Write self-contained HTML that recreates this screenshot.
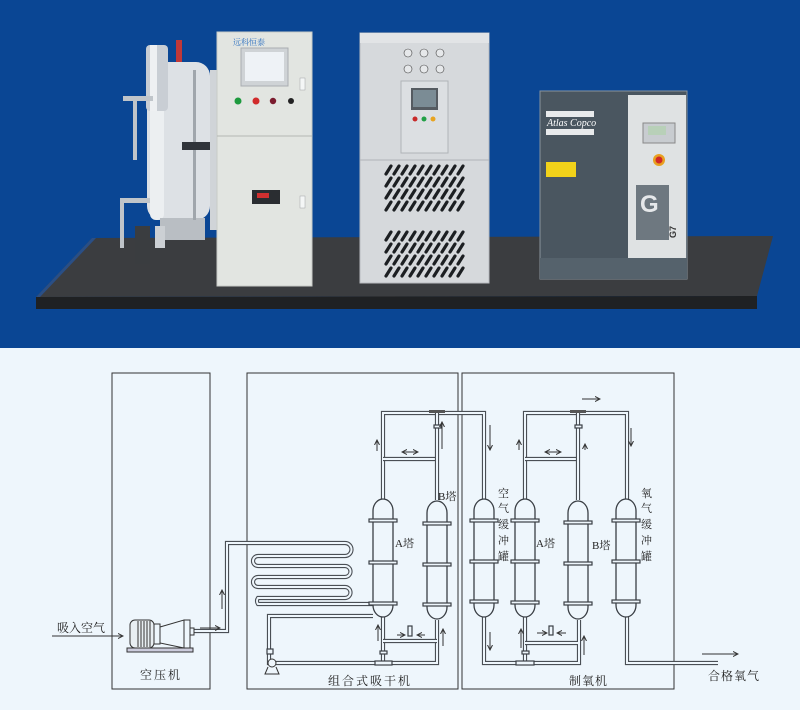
<!DOCTYPE html>
<html><head><meta charset="utf-8"><style>
html,body{margin:0;padding:0;background:#eef6fc;}
svg{display:block;}
text{font-family:"Liberation Serif","Noto Serif CJK SC","Noto Sans CJK SC",serif;fill:#222;}
.o{fill:none;stroke:#4a4f55;stroke-width:4.2;stroke-linejoin:miter;}
.i{fill:none;stroke:#eef6fc;stroke-width:2;stroke-linejoin:miter;}
.t{fill:#eef6fc;stroke:#3a3f45;stroke-width:1.3;}
.f{fill:#eef6fc;stroke:#3a3f45;stroke-width:1.2;}
.ln{stroke:#333;stroke-width:1;fill:none;}
</style></head><body>
<svg width="800" height="710" viewBox="0 0 800 710" xmlns="http://www.w3.org/2000/svg">
<defs>
<marker id="ah" markerWidth="6" markerHeight="6" refX="5" refY="3" orient="auto"><path d="M0,0.5 L5,3 L0,5.5" fill="none" stroke="#333" stroke-width="1"/></marker>
<marker id="as" markerWidth="6" markerHeight="6" refX="1" refY="3" orient="auto"><path d="M6,0.5 L1,3 L6,5.5" fill="none" stroke="#333" stroke-width="1"/></marker>
<path id="p1" d="M191,631 H227 V543 H345 A5.5,5.5 0 0 1 345,556 H258 A5,5 0 0 0 258,566 H345 A5.5,5.5 0 0 1 345,577 H258 A5,5 0 0 0 258,587 H345 A5.5,5.5 0 0 1 345,598 H258 A5,5 0 0 0 258,604 H373"/>
<path id="p2" d="M373,616 H269 V663 H437 V620"/>
<path id="p3" d="M383,500 V413 H484 V500"/>
<path id="p4" d="M383,459 H437"/>
<path id="p5" d="M437,500 V413"/>
<path id="p6" d="M383,617 V663"/>
<path id="p7" d="M383,641 H437"/>
<path id="p8" d="M484,617 V663 H579 V620"/>
<path id="p9" d="M525,500 V413 H627 V500"/>
<path id="p10" d="M525,459 H578"/>
<path id="p11" d="M578,500 V413"/>
<path id="p12" d="M525,617 V663"/>
<path id="p13" d="M525,643 H578"/>
<path id="p14" d="M627,617 V663 H718"/>
<path id="tw" d="M0,12 A10,12 0 0 1 20,12 V106 A10,12 0 0 1 0,106 Z"/>
</defs>

<rect x="0" y="0" width="800" height="348" fill="#0a4694"/>
<polygon points="92,238 773,236 757,296 36,297" fill="#3b3d40"/>
<polygon points="36,297 757,296 757,309 36,309" fill="#1f2123"/>
<polygon points="36,297 92,238 96,238 40,297" fill="#2a4f86"/>
<!-- tank unit -->
<rect x="147" y="62" width="63" height="158" rx="14" fill="#dde1e5"/>
<rect x="150" y="62" width="14" height="158" rx="6" fill="#eceff1"/>
<rect x="146" y="45" width="22" height="66" rx="4" fill="#c9ced4"/>
<rect x="150" y="45" width="7" height="66" fill="#eef0f2"/>
<rect x="123" y="96" width="30" height="5" fill="#c0c5ca"/>
<rect x="133" y="100" width="4" height="60" fill="#bfc4c9"/>
<rect x="120" y="198" width="30" height="5" fill="#c0c5ca"/>
<rect x="120" y="198" width="4" height="50" fill="#bfc4c9"/>
<rect x="160" y="218" width="45" height="22" fill="#b9bec3"/>
<rect x="135" y="226" width="15" height="38" fill="#3a3d40"/>
<rect x="155" y="226" width="10" height="22" fill="#ccd0d4"/>
<rect x="176" y="40" width="6" height="22" fill="#c03838"/>
<rect x="193" y="70" width="3" height="150" fill="#a0a6ac"/>
<rect x="182" y="142" width="30" height="8" fill="#30343a"/>
<rect x="210" y="70" width="8" height="160" fill="#d0d4d8"/>
<!-- control cabinet -->
<rect x="217" y="32" width="95" height="254" fill="#e2e5e1" stroke="#c8ccc8"/>
<line x1="217" y1="136" x2="312" y2="136" stroke="#b4b8b4"/>
<text x="233" y="45" font-size="8" style="fill:#2b6fc0">远科恒泰</text>
<rect x="241" y="48" width="47" height="38" fill="#cfd3d6" stroke="#a9adb1"/>
<rect x="245" y="52" width="39" height="29" fill="#eef2f6"/>
<circle cx="238" cy="101" r="3.5" fill="#1d9a3e"/><circle cx="256" cy="101" r="3.5" fill="#d12b2b"/>
<circle cx="273" cy="101" r="3.2" fill="#7a1b2e"/><circle cx="291" cy="101" r="3" fill="#222"/>
<rect x="252" y="190" width="28" height="14" fill="#2a2d31"/>
<rect x="257" y="193" width="12" height="5" fill="#d03030"/>
<rect x="300" y="78" width="5" height="12" fill="#f4f6f6" stroke="#a0a4a8" stroke-width=".5"/>
<rect x="300" y="196" width="5" height="12" fill="#f4f6f6" stroke="#a0a4a8" stroke-width=".5"/>
<!-- dryer -->
<rect x="360" y="33" width="129" height="250" fill="#d6d9dc" stroke="#b8bcc0"/>
<rect x="360" y="33" width="129" height="10" fill="#e2e4e6"/>
<line x1="360" y1="160" x2="489" y2="160" stroke="#b0b4b8"/>
<rect x="401" y="81" width="47" height="72" fill="#dcdfe2" stroke="#b0b4b8"/>
<rect x="411" y="88" width="27" height="22" fill="#555b61"/>
<rect x="413" y="90" width="23" height="17" fill="#7b8c95"/>
<circle cx="415" cy="119" r="2.5" fill="#c82a2a"/><circle cx="424" cy="119" r="2.5" fill="#22a046"/><circle cx="433" cy="119" r="2.5" fill="#e8a420"/>
<g fill="#e6e8ea" stroke="#444" stroke-width=".6">
<circle cx="408" cy="53" r="4"/><circle cx="424" cy="53" r="4"/><circle cx="440" cy="53" r="4"/>
<circle cx="408" cy="69" r="4"/><circle cx="424" cy="69" r="4"/><circle cx="440" cy="69" r="4"/>
</g>
<g stroke="#1c1f22" stroke-width="3.2" stroke-linecap="round">
<path d="M386,174 l5,-8 M394,174 l5,-8 M402,174 l5,-8 M410,174 l5,-8 M418,174 l5,-8 M426,174 l5,-8 M434,174 l5,-8 M442,174 l5,-8 M450,174 l5,-8 M458,174 l5,-8"/>
<path d="M386,186 l5,-8 M394,186 l5,-8 M402,186 l5,-8 M410,186 l5,-8 M418,186 l5,-8 M426,186 l5,-8 M434,186 l5,-8 M442,186 l5,-8 M450,186 l5,-8 M458,186 l5,-8"/>
<path d="M386,198 l5,-8 M394,198 l5,-8 M402,198 l5,-8 M410,198 l5,-8 M418,198 l5,-8 M426,198 l5,-8 M434,198 l5,-8 M442,198 l5,-8 M450,198 l5,-8 M458,198 l5,-8"/>
<path d="M386,210 l5,-8 M394,210 l5,-8 M402,210 l5,-8 M410,210 l5,-8 M418,210 l5,-8 M426,210 l5,-8 M434,210 l5,-8 M442,210 l5,-8 M450,210 l5,-8 M458,210 l5,-8"/>
<path d="M386,240 l5,-8 M394,240 l5,-8 M402,240 l5,-8 M410,240 l5,-8 M418,240 l5,-8 M426,240 l5,-8 M434,240 l5,-8 M442,240 l5,-8 M450,240 l5,-8 M458,240 l5,-8"/>
<path d="M386,252 l5,-8 M394,252 l5,-8 M402,252 l5,-8 M410,252 l5,-8 M418,252 l5,-8 M426,252 l5,-8 M434,252 l5,-8 M442,252 l5,-8 M450,252 l5,-8 M458,252 l5,-8"/>
<path d="M386,264 l5,-8 M394,264 l5,-8 M402,264 l5,-8 M410,264 l5,-8 M418,264 l5,-8 M426,264 l5,-8 M434,264 l5,-8 M442,264 l5,-8 M450,264 l5,-8 M458,264 l5,-8"/>
<path d="M386,276 l5,-8 M394,276 l5,-8 M402,276 l5,-8 M410,276 l5,-8 M418,276 l5,-8 M426,276 l5,-8 M434,276 l5,-8 M442,276 l5,-8 M450,276 l5,-8 M458,276 l5,-8"/>
</g>
<!-- atlas copco -->
<rect x="540" y="91" width="147" height="188" fill="#4a5660" stroke="#8a949c"/>
<rect x="540" y="258" width="147" height="21" fill="#55626c"/>
<rect x="628" y="95" width="58" height="163" fill="#dfe2e3"/>
<rect x="546" y="111" width="48" height="6" fill="#e8eaec"/>
<rect x="546" y="129" width="48" height="6" fill="#e8eaec"/>
<text x="547" y="126" font-size="10" font-style="italic" style="fill:#fff;font-family:'Liberation Serif',serif">Atlas Copco</text>
<rect x="546" y="162" width="30" height="15" fill="#f2d21a"/>
<rect x="643" y="123" width="32" height="20" fill="#c8ccd0" stroke="#888"/>
<rect x="648" y="126" width="18" height="9" fill="#b8d0b8"/>
<circle cx="659" cy="160" r="6" fill="#e8a020"/><circle cx="659" cy="160" r="3.5" fill="#d02828"/>
<rect x="636" y="185" width="33" height="55" fill="#6e7880"/>
<text x="640" y="212" font-size="24" font-weight="bold" style="fill:#e6e8ea;font-family:'Liberation Sans',sans-serif">G</text>
<text x="676" y="238" font-size="9" font-weight="bold" transform="rotate(-90 676 238)" style="fill:#333;font-family:'Liberation Sans',sans-serif">G7</text>

<!-- diagram section -->
<rect x="0" y="348" width="800" height="362" fill="#eef6fc"/>
<rect x="112" y="373" width="98" height="316" fill="none" stroke="#333" stroke-width="1"/>
<rect x="247" y="373" width="211" height="316" fill="none" stroke="#333" stroke-width="1"/>
<rect x="462" y="373" width="212" height="316" fill="none" stroke="#333" stroke-width="1"/>

<g>
<use href="#p1" class="o"/><use href="#p1" class="i"/>
<use href="#p2" class="o"/><use href="#p2" class="i"/>
<use href="#p3" class="o"/><use href="#p3" class="i"/>
<use href="#p4" class="o"/><use href="#p4" class="i"/>
<use href="#p5" class="o"/><use href="#p5" class="i"/>
<use href="#p6" class="o"/><use href="#p6" class="i"/>
<use href="#p7" class="o"/><use href="#p7" class="i"/>
<use href="#p8" class="o"/><use href="#p8" class="i"/>
<use href="#p9" class="o"/><use href="#p9" class="i"/>
<use href="#p10" class="o"/><use href="#p10" class="i"/>
<use href="#p11" class="o"/><use href="#p11" class="i"/>
<use href="#p12" class="o"/><use href="#p12" class="i"/>
<use href="#p13" class="o"/><use href="#p13" class="i"/>
<use href="#p14" class="o"/><use href="#p14" class="i"/>
</g>
<rect x="429" y="410" width="16" height="3" fill="#555"/>
<rect x="570" y="410" width="16" height="3" fill="#555"/>
<rect x="375" y="661" width="17" height="4" class="f"/>
<rect x="516" y="661" width="18" height="4" class="f"/>
<rect x="434" y="425" width="7" height="3" class="f"/>
<rect x="575" y="425" width="7" height="3" class="f"/>
<rect x="380" y="651" width="7" height="3" class="f"/>
<rect x="522" y="651" width="7" height="3" class="f"/>

<g class="t">
<use href="#tw" x="373" y="499"/>
<use href="#tw" x="427" y="501"/>
<use href="#tw" x="474" y="499"/>
<use href="#tw" x="515" y="499"/>
<use href="#tw" x="568" y="501"/>
<use href="#tw" x="616" y="499"/>
</g>
<g class="f">
<rect x="369" y="519" width="28" height="3"/><rect x="369" y="561" width="28" height="3"/><rect x="369" y="602" width="28" height="3"/>
<rect x="423" y="522" width="28" height="3"/><rect x="423" y="563" width="28" height="3"/><rect x="423" y="603" width="28" height="3"/>
<rect x="470" y="519" width="28" height="3"/><rect x="470" y="560" width="28" height="3"/><rect x="470" y="600" width="28" height="3"/>
<rect x="511" y="519" width="28" height="3"/><rect x="511" y="560" width="28" height="3"/><rect x="511" y="601" width="28" height="3"/>
<rect x="564" y="521" width="28" height="3"/><rect x="564" y="562" width="28" height="3"/><rect x="564" y="602" width="28" height="3"/>
<rect x="612" y="519" width="28" height="3"/><rect x="612" y="560" width="28" height="3"/><rect x="612" y="600" width="28" height="3"/>
</g>
<rect x="408" y="626" width="4" height="10" class="f"/>
<rect x="549" y="626" width="4" height="9" class="f"/>

<rect x="127" y="648" width="66" height="4" fill="#ccd" stroke="#333" stroke-width="1"/>
<rect x="130" y="620" width="24" height="28" rx="5" fill="#e8eef2" stroke="#333" stroke-width="1"/>
<g stroke="#333" stroke-width="1"><line x1="138" y1="621" x2="138" y2="647"/><line x1="141" y1="621" x2="141" y2="647"/><line x1="144" y1="621" x2="144" y2="647"/><line x1="147" y1="621" x2="147" y2="647"/><line x1="150" y1="621" x2="150" y2="647"/></g>
<rect x="154" y="624" width="6" height="20" fill="none" stroke="#333"/>
<polygon points="160,627 184,620 184,648 160,643" fill="#eef6fc" stroke="#333"/>
<rect x="184" y="620" width="6" height="28" fill="#eef6fc" stroke="#333"/>
<rect x="190" y="628" width="4" height="7" fill="#eef6fc" stroke="#333"/>
<circle cx="272" cy="663" r="4" fill="#eef6fc" stroke="#333"/>
<rect x="267" y="649" width="6" height="5" class="f"/>
<path d="M268,667 L265,674 H279 L276,667" fill="none" stroke="#333"/>

<g class="ln">
<line x1="52" y1="636" x2="123" y2="636" marker-end="url(#ah)"/>
<line x1="200" y1="628" x2="220" y2="628" marker-end="url(#ah)"/>
<line x1="222" y1="609" x2="222" y2="590" marker-end="url(#ah)"/>
<line x1="377" y1="451" x2="377" y2="440" marker-end="url(#ah)"/>
<line x1="402" y1="452" x2="418" y2="452" marker-end="url(#ah)" marker-start="url(#as)"/>
<line x1="442" y1="449" x2="442" y2="422" marker-end="url(#ah)"/>
<line x1="378" y1="641" x2="378" y2="625" marker-end="url(#ah)"/>
<line x1="397" y1="635" x2="405" y2="635" marker-end="url(#ah)"/>
<line x1="425" y1="635" x2="417" y2="635" marker-end="url(#ah)"/>
<line x1="443" y1="646" x2="443" y2="629" marker-end="url(#ah)"/>
<line x1="490" y1="425" x2="490" y2="450" marker-end="url(#ah)"/>
<line x1="490" y1="632" x2="490" y2="650" marker-end="url(#ah)"/>
<line x1="519" y1="450" x2="519" y2="440" marker-end="url(#ah)"/>
<line x1="545" y1="452" x2="561" y2="452" marker-end="url(#ah)" marker-start="url(#as)"/>
<line x1="585" y1="450" x2="585" y2="444" marker-end="url(#ah)"/>
<line x1="521" y1="648" x2="521" y2="629" marker-end="url(#ah)"/>
<line x1="537" y1="633" x2="547" y2="633" marker-end="url(#ah)"/>
<line x1="566" y1="633" x2="557" y2="633" marker-end="url(#ah)"/>
<line x1="584" y1="655" x2="584" y2="636" marker-end="url(#ah)"/>
<line x1="582" y1="399" x2="600" y2="399" marker-end="url(#ah)"/>
<line x1="631" y1="428" x2="631" y2="446" marker-end="url(#ah)"/>
<line x1="702" y1="654" x2="738" y2="654" marker-end="url(#ah)"/>
</g>

<text x="57" y="632" font-size="12">吸入空气</text>
<text x="140" y="679" font-size="12" letter-spacing="2">空压机</text>
<text x="328" y="685" font-size="12" letter-spacing="2">组合式吸干机</text>
<text x="569" y="685" font-size="12" letter-spacing="1">制氧机</text>
<text x="708" y="680" font-size="12" letter-spacing="1">合格氧气</text>
<text x="395" y="547" font-size="11">A塔</text>
<text x="438" y="500" font-size="11">B塔</text>
<text x="536" y="547" font-size="11">A塔</text>
<text x="592" y="549" font-size="11">B塔</text>
<g font-size="11">
<text x="498" y="497">空</text><text x="498" y="512">气</text><text x="498" y="528">缓</text><text x="498" y="544">冲</text><text x="498" y="560">罐</text>
<text x="641" y="497">氧</text><text x="641" y="512">气</text><text x="641" y="528">缓</text><text x="641" y="544">冲</text><text x="641" y="560">罐</text>
</g>
</svg>
</body></html>
